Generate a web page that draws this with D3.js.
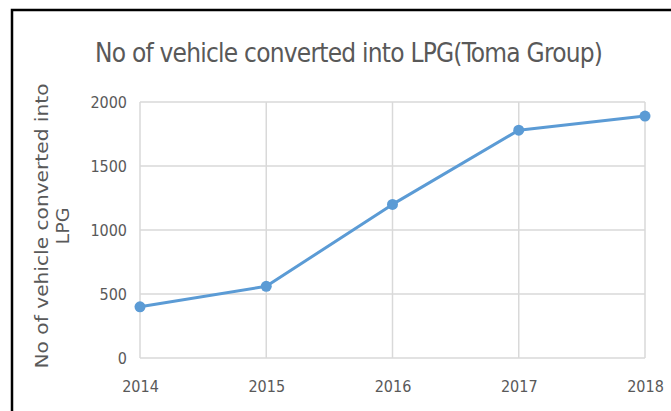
<!DOCTYPE html>
<html>
<head>
<meta charset="utf-8">
<script src="https://cdn.jsdelivr.net/npm/d3@7"></script>
<style>
  body { margin: 0; background: #fff; }
  svg { display: block; }
</style>
</head>
<body>
<div id="chart"></div>
<script>
var years = ["2014", "2015", "2016", "2017", "2018"];
var vehicles = [400, 560, 1200, 1780, 1890];
var yTicks = [0, 500, 1000, 1500, 2000];
var chartTitle = "No of vehicle converted into LPG(Toma Group)";
var yLabelLines = ["No of vehicle converted into", "LPG"];

const width = 671;
const height = 411;

// plot area edges
const padding = { top: 102, right: 26, bottom: 53, left: 140 };

var svg = d3.select("#chart").append("svg")
	.attr("width", width)
	.attr("height", height);

// frame (top + left only, the rest is cut off in the picture)
svg.append("path")
	.attr("d", "M12,411 L12,10 L671,10")
	.attr("fill", "none")
	.attr("stroke", "#000")
	.attr("stroke-width", 2.5);

var xScale = d3.scalePoint().domain(years).range([padding.left, width - padding.right]);
var yScale = d3.scaleLinear().domain([0, 2000]).range([height - padding.bottom, padding.top]);

var textFont = "'DejaVu Sans Condensed', 'Liberation Sans Narrow', sans-serif";

// grid
svg.append("g")
	.selectAll("line.h")
	.data(yTicks)
	.enter().append("line")
	.attr("x1", padding.left).attr("x2", width - padding.right)
	.attr("y1", d => yScale(d)).attr("y2", d => yScale(d))
	.attr("stroke", "#d9d9d9").attr("stroke-width", 1.5);

svg.append("g")
	.selectAll("line.v")
	.data(years)
	.enter().append("line")
	.attr("x1", d => xScale(d)).attr("x2", d => xScale(d))
	.attr("y1", yScale(0)).attr("y2", yScale(2000))
	.attr("stroke", "#d9d9d9").attr("stroke-width", 1.5);

// y axis
var yAxis = svg.append("g")
	.attr("transform", "translate(" + padding.left + ",0)")
	.call(d3.axisLeft(yScale).tickValues(yTicks).tickFormat(d3.format("d")).tickSize(0).tickPadding(13));
yAxis.select(".domain").remove();
yAxis.selectAll("text")
	.attr("fill", "#595959")
	.style("font-family", textFont)
	.style("font-size", "16px");

// x axis
var xAxis = svg.append("g")
	.attr("transform", "translate(0," + yScale(0) + ")")
	.call(d3.axisBottom(xScale).tickSize(0).tickPadding(23));
xAxis.select(".domain").remove();
xAxis.selectAll("text")
	.attr("fill", "#595959")
	.style("font-family", textFont)
	.style("font-size", "16px");

// title
svg.append("text")
	.attr("x", 349)
	.attr("y", 62)
	.attr("text-anchor", "middle")
	.attr("fill", "#595959")
	.style("font-family", textFont)
	.style("font-size", "26px")
	.attr("textLength", 508)
	.text(chartTitle);

// y label
var yl = svg.append("text")
	.attr("transform", "translate(48,226) rotate(-90)")
	.attr("text-anchor", "middle")
	.attr("fill", "#595959")
	.style("font-family", "'DejaVu Sans', Verdana, sans-serif")
	.style("font-size", "17px");
yl.selectAll("tspan")
	.data(yLabelLines)
	.enter().append("tspan")
	.attr("x", 0)
	.attr("dy", (d, i) => i == 0 ? 0 : 21)
	.attr("textLength", (d, i) => i == 0 ? 285 : 37)
	.attr("lengthAdjust", "spacingAndGlyphs")
	.text(d => d);

// line + markers
var line = d3.line()
	.x((d, i) => xScale(years[i]))
	.y(d => yScale(d));

svg.append("path")
	.datum(vehicles)
	.attr("fill", "none")
	.attr("stroke", "#5b9bd5")
	.attr("stroke-width", 3)
	.attr("stroke-linejoin", "round")
	.attr("d", line);

svg.append("g")
	.selectAll("circle")
	.data(vehicles)
	.enter().append("circle")
	.attr("cx", (d, i) => xScale(years[i]))
	.attr("cy", d => yScale(d))
	.attr("r", 5.5)
	.attr("fill", "#5b9bd5");
</script>
</body>
</html>
